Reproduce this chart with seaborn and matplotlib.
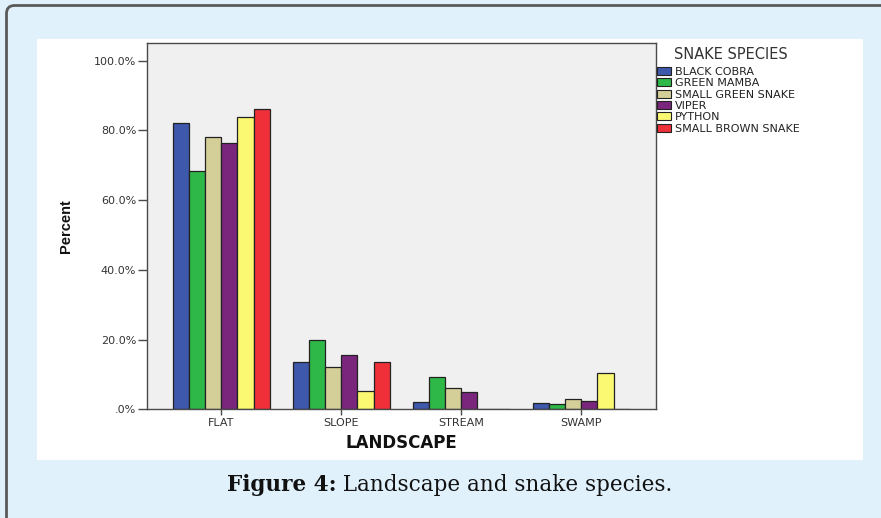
import matplotlib
matplotlib.use("Agg")
import matplotlib.pyplot as plt
from matplotlib.patches import Rectangle, Patch, PathPatch
from matplotlib.path import Path
from matplotlib.transforms import IdentityTransform
from matplotlib.ticker import FuncFormatter
from matplotlib.offsetbox import TextArea, HPacker, AnchoredOffsetbox
import seaborn as sns
import pandas as pd

# ---- data ----
landscapes = ["FLAT", "SLOPE", "STREAM", "SWAMP"]
species = ["BLACK COBRA", "GREEN MAMBA", "SMALL GREEN SNAKE", "VIPER",
           "PYTHON", "SMALL BROWN SNAKE"]
black_cobra = [82.0, 13.6, 2.0, 1.9]
green_mamba = [68.5, 19.8, 9.4, 1.5]
small_green_snake = [78.2, 12.1, 6.0, 3.0]
viper = [76.4, 15.5, 5.1, 2.5]
python_ = [83.9, 5.2, 0.0, 10.4]
small_brown_snake = [86.1, 13.5, 0.0, 0.0]
series = [black_cobra, green_mamba, small_green_snake, viper, python_,
          small_brown_snake]
colors = ["#3e58ac", "#2eb848", "#d4cf98", "#7b267d", "#fbf872", "#ef3039"]
yticks = [0, 20, 40, 60, 80, 100]

rows = []
for sp, vals in zip(species, series):
    for ls, v in zip(landscapes, vals):
        rows.append({"LANDSCAPE": ls, "species": sp, "Percent": v})
df = pd.DataFrame(rows)

sns.set_theme(style="white")
plt.rcParams["font.family"] = ["DejaVu Sans"]

W, H = 881, 518
BG = "#e0f1fb"
fig = plt.figure(figsize=(W / 100, H / 100), dpi=100, facecolor=BG,
                 edgecolor=BG, linewidth=0)

# outer border: left and top edges with rounded corner
xl, yt, r = 6.5, H - 5.5, 8
verts = [(xl, 0), (xl, yt - r), (xl, yt), (xl + r, yt), (W, yt)]
codes = [Path.MOVETO, Path.LINETO, Path.CURVE3, Path.CURVE3, Path.LINETO]
border = PathPatch(Path(verts, codes), transform=IdentityTransform(),
                   facecolor="none", edgecolor="#5a5a5a", linewidth=2,
                   zorder=-2)
fig.add_artist(border)
panel = Rectangle((36.7, H - 460), 862.7 - 36.7, 460 - 39,
                  transform=IdentityTransform(), facecolor="white",
                  edgecolor="none", zorder=-1)
fig.add_artist(panel)

ax = fig.add_axes([146.7 / W, 1 - 409.3 / H, (655.7 - 146.7) / W,
                   (409.3 - 43.3) / H])
ax.set_zorder(2)
ax.set_facecolor("#f0f0f0")

sns.barplot(data=df, x="LANDSCAPE", y="Percent", hue="species",
            order=landscapes, hue_order=species, palette=colors,
            saturation=1, width=0.81, errorbar=None, edgecolor="#222222",
            linewidth=0.9, legend=False, ax=ax)

ax.set_xlim(-0.62, 3.62)
ax.set_ylim(0, 105)
ax.set_yticks(yticks)
ax.yaxis.set_major_formatter(FuncFormatter(
    lambda v, p: ".0%" if v == 0 else f"{v:.1f}%"))
for s in ax.spines.values():
    s.set_visible(True)
    s.set_color("#4a4a4a")
    s.set_linewidth(1.0)
ax.tick_params(axis="y", which="major", left=True, length=6.5, width=1,
               color="#4a4a4a", pad=1, labelsize=8, labelcolor="#333333")
ax.tick_params(axis="x", which="major", bottom=True, length=4, width=1,
               color="#4a4a4a", pad=2, labelsize=8, labelcolor="#333333")

ax.set_ylabel("Percent", fontsize=10.5, fontweight="bold",
              family=["Liberation Sans Narrow", "Liberation Sans"],
              color="#111111")
ax.yaxis.set_label_coords((73.5 - 146.7) / 509, 0.5)
ax.set_xlabel("LANDSCAPE", fontsize=12, fontweight="bold", color="#111111")
ax.xaxis.set_label_coords(0.5, (409.3 - 434) / 366)

# legend
handles = [Patch(facecolor=c, edgecolor="#222222", linewidth=0.8)
           for c in colors]
leg = ax.legend(handles, species, loc="upper left",
                bbox_to_anchor=(657.3 / W, 1 - 67.0 / H),
                bbox_transform=fig.transFigure, frameon=False, fontsize=8,
                handlelength=1.25, handleheight=0.72, handletextpad=0.3,
                labelspacing=0.12, borderpad=0, borderaxespad=0)
for t in leg.get_texts():
    t.set_color("#222222")
fig.text(674 / W, 1 - 54.3 / H, "SNAKE SPECIES", fontsize=10.5,
         color="#333333", ha="left", va="center")

# caption
ta1 = TextArea("Figure 4:", textprops=dict(fontsize=15.5, fontweight="bold",
                                           family="DejaVu Serif",
                                           color="#111111"))
ta2 = TextArea(" Landscape and snake species.",
               textprops=dict(fontsize=15.5, family="DejaVu Serif",
                              color="#111111"))
box = HPacker(children=[ta1, ta2], align="baseline", pad=0, sep=0)
anch = AnchoredOffsetbox(loc="center", child=box, pad=0, borderpad=0,
                         frameon=False,
                         bbox_to_anchor=(449.5 / W, 1 - 485 / H),
                         bbox_transform=fig.transFigure)
fig.add_artist(anch)

fig.savefig("out.png", dpi=100, facecolor=BG, edgecolor=BG)
